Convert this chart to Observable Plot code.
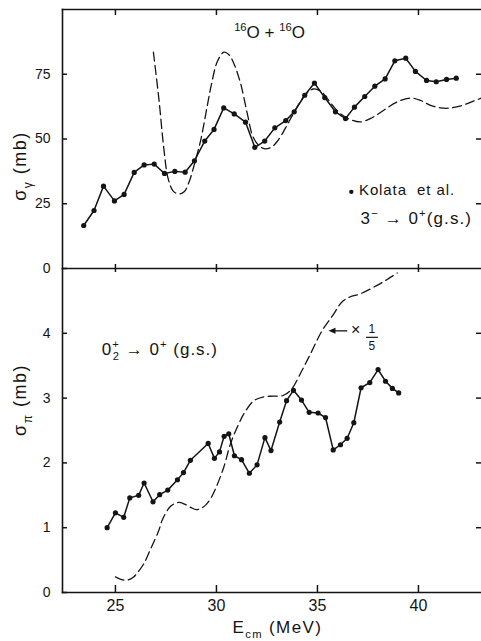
<!DOCTYPE html>
<html>
<head>
<meta charset="utf-8">
<script src="https://cdn.jsdelivr.net/npm/d3@7"></script>
<script src="https://cdn.jsdelivr.net/npm/@observablehq/plot@0.6"></script>
<style>
  html, body { margin: 0; padding: 0; background: #fff; }
  #chart { width: 481px; height: 641px; position: relative; }
  #chart svg { display: block; }
</style>
</head>
<body>
<div id="chart"></div>
<script>
// ---------- data ----------
// Upper panel: sigma_gamma (mb), Kolata et al. data
const kolataE = [23.43, 23.94, 24.41, 24.95, 25.43, 25.93, 26.42, 26.92, 27.43, 27.94,
                 28.45, 28.91, 29.42, 29.88, 30.36, 30.88, 31.44, 31.9, 32.39, 32.89,
                 33.43, 33.85, 34.37, 34.85, 35.36, 35.89, 36.39, 36.83, 37.34, 37.84,
                 38.35, 38.83, 39.37, 39.85, 40.4, 40.88, 41.39, 41.87];
const kolataS = [16.6, 22.4, 31.8, 26.1, 28.6, 37.1, 40.0, 40.3, 36.7, 37.5,
                 37.2, 41.6, 49.2, 53.7, 62.0, 59.7, 56.5, 46.8, 49.2, 54.3,
                 57.1, 60.5, 66.9, 71.6, 66.0, 60.5, 57.9, 62.3, 66.4, 70.4,
                 73.2, 80.2, 81.2, 76.1, 72.6, 72.1, 73.0, 73.5];
// Upper panel: theory (dashed)
const theoryTopE = [26.88, 27.15, 27.4, 27.6, 27.85, 28.12, 28.4, 28.65, 28.9, 29.22,
                    29.55, 29.75, 30.05, 30.37, 30.62, 30.87, 31.2, 31.53, 31.8, 32.1,
                    32.4, 32.75, 33.05, 33.4, 33.75, 34.1, 34.45, 34.8, 35.15, 35.5,
                    35.85, 36.15, 36.6, 37.13, 37.7, 38.3, 38.95, 39.6, 40.1, 40.6,
                    41.1, 41.5, 42.1, 42.74, 43.12];
const theoryTopS = [83.5, 65.5, 46, 35, 30, 28.8, 29.6, 33.5, 40, 49.5,
                    63, 71, 80, 83.5, 82.5, 79, 71.3, 59.7, 51, 47.5,
                    46.2, 47, 49.5, 54, 59, 63.8, 67.5, 69.3, 68.5, 65.5,
                    62, 59.7, 57.6, 56.6, 58.2, 61.2, 64.3, 65.8, 64.9, 63,
                    62, 61.9, 62.8, 64.7, 65.8];
// Lower panel: sigma_pi (mb), data
const piE = [24.59, 25.0, 25.41, 25.71, 26.15, 26.42, 26.86, 27.19, 27.59, 28.07,
             28.37, 28.71, 29.59, 29.9, 30.15, 30.38, 30.61, 30.89, 31.24, 31.63,
             32.01, 32.4, 32.7, 33.13, 33.47, 33.81, 34.21, 34.59, 35.03, 35.4,
             35.78, 36.14, 36.47, 36.8, 37.16, 37.59, 38.0, 38.37, 38.71, 39.02];
const piS = [1.00, 1.23, 1.16, 1.46, 1.50, 1.69, 1.40, 1.51, 1.58, 1.74,
             1.85, 2.04, 2.30, 2.07, 2.17, 2.41, 2.45, 2.11, 2.05, 1.84,
             1.97, 2.39, 2.19, 2.63, 2.96, 3.12, 2.97, 2.78, 2.77, 2.70,
             2.20, 2.28, 2.38, 2.62, 3.16, 3.24, 3.44, 3.26, 3.15, 3.08];
// Lower panel: theory x 1/5 (dashed)
const theoryBotE = [25.0, 25.3, 25.58, 25.9, 26.15, 26.4, 26.74, 27.15, 27.32, 27.73,
                    28.14, 28.45, 28.75, 29.0, 29.25, 29.5, 29.75, 29.98, 30.36, 30.69,
                    31.1, 31.4, 31.85, 32.34, 32.8, 33.3, 33.7, 34.24, 34.65, 35.23,
                    35.81, 36.2, 36.6, 37.13, 37.95, 38.5, 38.95];
const theoryBotS = [0.24, 0.2, 0.19, 0.24, 0.33, 0.44, 0.67, 0.96, 1.12, 1.33,
                    1.39, 1.36, 1.31, 1.28, 1.30, 1.36, 1.47, 1.62, 1.93, 2.29,
                    2.6, 2.78, 2.96, 3.02, 3.03, 3.04, 3.13, 3.43, 3.68, 4.04,
                    4.30, 4.48, 4.56, 4.61, 4.74, 4.84, 4.93];
// ticks
const xTicks = [25, 30, 35, 40];
const yTopTicks = [0, 25, 50, 75];
const yTopRightTicks = [25, 50, 75];
const yBotTicks = [0, 1, 2, 3, 4];
const yBotRightTicks = [1, 2, 3, 4];

// ---------- tables ----------
const zip = (E, S) => E.map((e, i) => ({E: e, s: S[i]}));
const kolata = zip(kolataE, kolataS);
const theoryTop = zip(theoryTopE, theoryTopS);
const piData = zip(piE, piS);
const theoryBot = zip(theoryBotE, theoryBotS);

// ---------- style ----------
const FONT = "'Liberation Sans', Arial, Helvetica, sans-serif";
const INK = "#141414";
const X_DOMAIN = [22.38, 43.12];
const AX_W = 1.6;
const TICK_W = 1.5;
const W = 481, ML = 62, MR = 0;
const PW = W - ML - MR;                 // inner plot width
const TOP_H = 268, TOP_MT = 9, TOP_MB = 0;
const BOT_H = 373, BOT_MT = 0, BOT_MB = 49;
const TOP_PH = TOP_H - TOP_MT - TOP_MB; // inner heights
const BOT_PH = BOT_H - BOT_MT - BOT_MB;
const style = {background: "transparent", overflow: "visible", fontFamily: FONT, color: INK};
const intFmt = d3.format("d");

// inward tick marks: rules on the tick values, cut down with insets to a few pixels
const ticksTop = (ph, len) => Plot.ruleX(xTicks, {insetBottom: ph - len, stroke: INK, strokeWidth: TICK_W});
const ticksBottom = (ph, len) => Plot.ruleX(xTicks, {insetTop: ph - len, stroke: INK, strokeWidth: TICK_W});
const ticksLeft = (t, len) => Plot.ruleY(t, {insetRight: PW - len, stroke: INK, strokeWidth: TICK_W});
const ticksRight = (t, len) => Plot.ruleY(t, {insetLeft: PW - len, stroke: INK, strokeWidth: TICK_W});

const topPlot = Plot.plot({
  width: W, height: TOP_H, marginTop: TOP_MT, marginRight: MR, marginBottom: TOP_MB, marginLeft: ML,
  style,
  x: {domain: X_DOMAIN, axis: null},
  y: {domain: [0, 100]},
  marks: [
    Plot.frame({anchor: "top", stroke: INK, strokeWidth: AX_W}),
    Plot.frame({anchor: "left", stroke: INK, strokeWidth: AX_W}),
    Plot.frame({anchor: "bottom", stroke: INK, strokeWidth: AX_W}),
    ticksTop(TOP_PH, 6),
    ticksBottom(TOP_PH, 4),
    ticksLeft(yTopTicks, 5),
    ticksRight(yTopRightTicks, 5),
    Plot.axisY(yTopTicks, {anchor: "left", tickSize: 0, tickPadding: 12, fontSize: 14, tickFormat: intFmt, label: null, fill: INK}),
    Plot.line(theoryTop, {x: "E", y: "s", curve: "catmull-rom", stroke: INK, strokeWidth: 1.3, strokeDasharray: "9,4.5", clip: true}),
    Plot.line(kolata, {x: "E", y: "s", stroke: INK, strokeWidth: 1.5}),
    Plot.dot(kolata, {x: "E", y: "s", r: 2.6, fill: INK, stroke: "none"})
  ]
});

const botPlot = Plot.plot({
  width: W, height: BOT_H, marginTop: BOT_MT, marginRight: MR, marginBottom: BOT_MB, marginLeft: ML,
  style,
  x: {domain: X_DOMAIN},
  y: {domain: [0, 5]},
  marks: [
    Plot.frame({anchor: "left", stroke: INK, strokeWidth: AX_W}),
    Plot.frame({anchor: "bottom", stroke: INK, strokeWidth: AX_W}),
    ticksTop(BOT_PH, 4),
    ticksBottom(BOT_PH, 7),
    ticksLeft(yBotTicks, 5),
    ticksRight(yBotRightTicks, 5),
    Plot.axisX(xTicks, {anchor: "bottom", tickSize: 0, tickPadding: 7, fontSize: 16, tickFormat: intFmt, label: null, fill: INK}),
    Plot.axisY(yBotTicks, {anchor: "left", tickSize: 0, tickPadding: 12, fontSize: 14, tickFormat: intFmt, label: null, fill: INK}),
    Plot.line(theoryBot, {x: "E", y: "s", curve: "catmull-rom", stroke: INK, strokeWidth: 1.3, strokeDasharray: "9,4.5", clip: true}),
    Plot.line(piData, {x: "E", y: "s", stroke: INK, strokeWidth: 1.5}),
    Plot.dot(piData, {x: "E", y: "s", r: 2.6, fill: INK, stroke: "none"})
  ]
});

const chart = document.getElementById("chart");
chart.append(topPlot, botPlot);

// ---------- rich text annotations (sub/superscripts) ----------
function rich(svg, x, y, parts, {size = 15, anchor = "start", rotate = 0, spacing = 0} = {}) {
  const t = d3.select(svg).append("text")
    .attr("transform", `translate(${x},${y}) rotate(${rotate})`)
    .attr("text-anchor", anchor)
    .attr("font-family", FONT)
    .attr("font-size", size)
    .attr("fill", INK)
    .attr("letter-spacing", spacing);
  let cur = 0;
  for (const [s, kind = "", dx = 0] of parts) {
    const off = kind === "sup" ? -0.42 * size : kind === "sub" ? 0.32 * size : 0;
    const ts = t.append("tspan").text(s).attr("dy", off - cur);
    if (kind) ts.attr("font-size", 0.66 * size);
    if (dx) ts.attr("dx", dx);
    cur = off;
  }
  return t;
}

const tx = topPlot.scale("x"), ty = topPlot.scale("y");
const bx = botPlot.scale("x"), by = botPlot.scale("y");

// upper panel
rich(topPlot, tx.apply(30.9), ty.apply(88.8),
  [["16", "sup"], ["O"], [" + "], ["16", "sup"], ["O"]], {size: 17});
d3.select(topPlot).append("circle")
  .attr("cx", tx.apply(36.7)).attr("cy", ty.apply(29.4)).attr("r", 2.2).attr("fill", INK);
rich(topPlot, tx.apply(37.08), ty.apply(28.2), [["Kolata  et al."]], {size: 15, spacing: 0.9});
rich(topPlot, tx.apply(37.16), ty.apply(17.0),
  [["3"], ["−", "sup"], [" → 0"], ["+", "sup"], ["(g.s.)"]], {size: 17, spacing: 1.1});
rich(topPlot, 26, 166, [["σ"], ["γ", "sub"], [" (mb)"]], {size: 18, anchor: "middle", rotate: -90, spacing: 1.5});

// lower panel
rich(botPlot, bx.apply(24.35), by.apply(3.66),
  [["0"], ["+", "sup"], ["2", "sub", -7], [" → 0"], ["+", "sup"], [" (g.s.)"]], {size: 17, spacing: 1.0});
rich(botPlot, 26, 132, [["σ"], ["π", "sub"], [" (mb)"]], {size: 18, anchor: "middle", rotate: -90, spacing: 1.5});
rich(botPlot, bx.apply(33.04), 365, [["E"], ["cm", "sub"], [" (MeV)"]], {size: 17, anchor: "middle", spacing: 1.4});

// "<- x 1/5" arrow annotation
{
  const g = d3.select(botPlot);
  const ax0 = bx.apply(35.57), ax1 = bx.apply(36.5), ay = by.apply(4.03);
  g.append("line").attr("x1", ax0 + 5).attr("x2", ax1).attr("y1", ay).attr("y2", ay)
    .attr("stroke", INK).attr("stroke-width", 1.3);
  g.append("path").attr("d", `M${ax0},${ay}L${ax0 + 7},${ay - 3}L${ax0 + 7},${ay + 3}Z`).attr("fill", INK);
  rich(botPlot, bx.apply(36.92), by.apply(3.96), [["×"]], {size: 16, anchor: "middle"});
  const fx = bx.apply(37.72);
  rich(botPlot, fx, by.apply(4.0), [["1"]], {size: 12, anchor: "middle"});
  g.append("line").attr("x1", fx - 6).attr("x2", fx + 6).attr("y1", by.apply(3.93)).attr("y2", by.apply(3.93))
    .attr("stroke", INK).attr("stroke-width", 1.2);
  rich(botPlot, fx, by.apply(3.73), [["5"]], {size: 12, anchor: "middle"});
}
</script>
</body>
</html>
